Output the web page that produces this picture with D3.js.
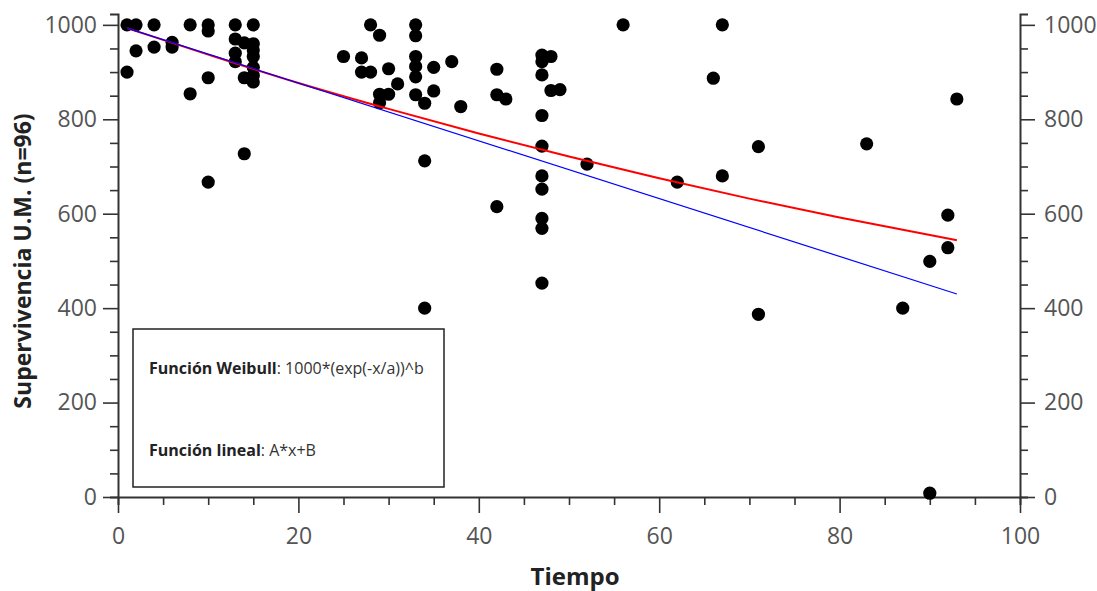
<!DOCTYPE html>
<html><head><meta charset="utf-8">
<script src="https://cdn.jsdelivr.net/npm/d3@7"></script>
<style>body{margin:0;background:#fff}svg{display:block}</style>
</head><body>
<svg id="chart" width="1097" height="591"></svg>
<script>
// Observed data: Tiempo (x) and Supervivencia U.M. (y)
const tiempo = [1,1, 2,2, 4,4, 6,6, 8,8, 10,10,10,10, 13,13,13,13, 14,14,14, 15,15,15,15,15,15,15,
  25, 27,27, 28,28, 29,29,29, 30,30, 31, 33,33,33,33,33,33, 34,34,34, 35,35, 37, 38,
  42,42,42, 43, 47,47,47,47,47,47,47,47,47,47, 48,48, 49, 52, 56, 62, 66, 67,67, 71,71, 83, 87, 90,90, 92,92, 93];
const supervivencia = [1000,900, 1000,945, 1000,953, 963,953, 1000,854, 1000,987,888,667, 1000,970,940,922, 962,888,727,
  1000,960,947,933,910,893,879,
  933, 930,900, 1000,900, 978,853,835, 907,853, 875, 1000,977,933,912,890,852, 834,712,400, 910,860, 922, 827,
  906,852,615, 843, 936,922,894,808,743,680,652,590,569,453, 933,861, 863, 705, 1000, 667, 887, 1000,680, 742,387, 748, 400, 499,8, 597,528, 843];

// Fitted curves
const weibullX = [1, 10, 20, 30, 40, 50, 60, 70, 80, 93];
const weibullY = [993, 937, 877, 822, 770, 721, 675, 632, 592, 544];
const linealX = [1, 93];
const linealY = [993, 430];

const xTicks = [0, 20, 40, 60, 80, 100];
const yTicks = [0, 200, 400, 600, 800, 1000];

const legendLines = [
  {bold: "Función Weibull", rest: ": 1000*(exp(-x/a))^b"},
  {bold: "Función lineal", rest: ": A*x+B"}
];

const svg = d3.select("#chart");
const FONT = "'Open Sans', 'DejaVu Sans', sans-serif";
const mLeft = 118, mRight = 1020, mBottom = 497, mTop = 14;

const x = d3.scaleLinear().domain([0, 100]).range([mLeft, mRight]);
const y = d3.scaleLinear().domain([0, 1023]).range([mBottom, mTop]);

const minorX = d3.range(0, 101, 5);
const minorY = d3.range(0, 1001, 50);
const axisColor = "#333";

// bottom axis
const gx = svg.append("g").attr("transform", `translate(0,${mBottom})`)
  .call(d3.axisBottom(x).tickValues(minorX).tickSizeOuter(0)
    .tickSize(8).tickFormat(d => xTicks.includes(d) ? d : ""));
gx.selectAll(".tick line").attr("y2", d => xTicks.includes(d) ? 16 : 8);
// left axis
const gyl = svg.append("g").attr("transform", `translate(${mLeft},0)`)
  .call(d3.axisLeft(y).tickValues(minorY).tickSizeOuter(0)
    .tickSize(8).tickFormat(d => yTicks.includes(d) ? d : ""));
gyl.selectAll(".tick line").attr("x2", d => yTicks.includes(d) ? -15 : -8);
// right axis
const gyr = svg.append("g").attr("transform", `translate(${mRight},0)`)
  .call(d3.axisRight(y).tickValues(minorY).tickSizeOuter(0)
    .tickSize(8).tickFormat(d => yTicks.includes(d) ? d : ""));
gyr.selectAll(".tick line").attr("x2", d => yTicks.includes(d) ? 15 : 8);

[gx, gyl, gyr].forEach(g => {
  g.select(".domain").attr("stroke", axisColor).attr("stroke-width", 2);
  g.selectAll(".tick line").attr("stroke", axisColor).attr("stroke-width", 1.6);
  g.selectAll(".tick text").attr("font-family", FONT).attr("font-size", 23)
    .attr("fill", "#555");
});
gx.selectAll(".tick text").attr("y", 31);
gyl.selectAll(".tick text").attr("x", -21);
gyr.selectAll(".tick text").attr("x", 24);

// axis titles
svg.append("text").attr("x", 575).attr("y", 585)
  .attr("text-anchor", "middle").attr("font-family", FONT).attr("font-weight", "bold")
  .attr("font-size", 24).attr("fill", "#222").text("Tiempo");
svg.append("text").attr("transform", `translate(31,${(mBottom + 25) / 2}) rotate(-90)`)
  .attr("text-anchor", "middle").attr("font-family", FONT).attr("font-weight", "bold")
  .attr("font-size", 23).attr("fill", "#222").text("Supervivencia U.M. (n=96)");

// points
svg.append("g").selectAll("circle").data(tiempo.map((t, i) => [t, supervivencia[i]]))
  .join("circle").attr("cx", d => x(d[0])).attr("cy", d => y(d[1])).attr("r", 6.6).attr("fill", "#000");

// lines
svg.append("path").datum(weibullX.map((t, i) => [t, weibullY[i]]))
  .attr("d", d3.line().x(d => x(d[0])).y(d => y(d[1])).curve(d3.curveMonotoneX))
  .attr("fill", "none").attr("stroke", "#ff0000").attr("stroke-width", 2);
svg.append("path").datum(linealX.map((t, i) => [t, linealY[i]]))
  .attr("d", d3.line().x(d => x(d[0])).y(d => y(d[1])))
  .attr("fill", "none").attr("stroke", "#0000ff").attr("stroke-width", 1.2);

// legend box
svg.append("rect").attr("x", 133).attr("y", 329).attr("width", 311).attr("height", 158)
  .attr("fill", "#fff").attr("stroke", "#222").attr("stroke-width", 1.5);
legendLines.forEach((l, i) => {
  const t = svg.append("text").attr("x", 149).attr("y", 374 + i * 82)
    .attr("font-family", FONT).attr("font-size", 16).attr("fill", "#333");
  t.append("tspan").attr("font-weight", "bold").attr("fill", "#222").text(l.bold);
  t.append("tspan").text(l.rest);
});
</script>
</body></html>
